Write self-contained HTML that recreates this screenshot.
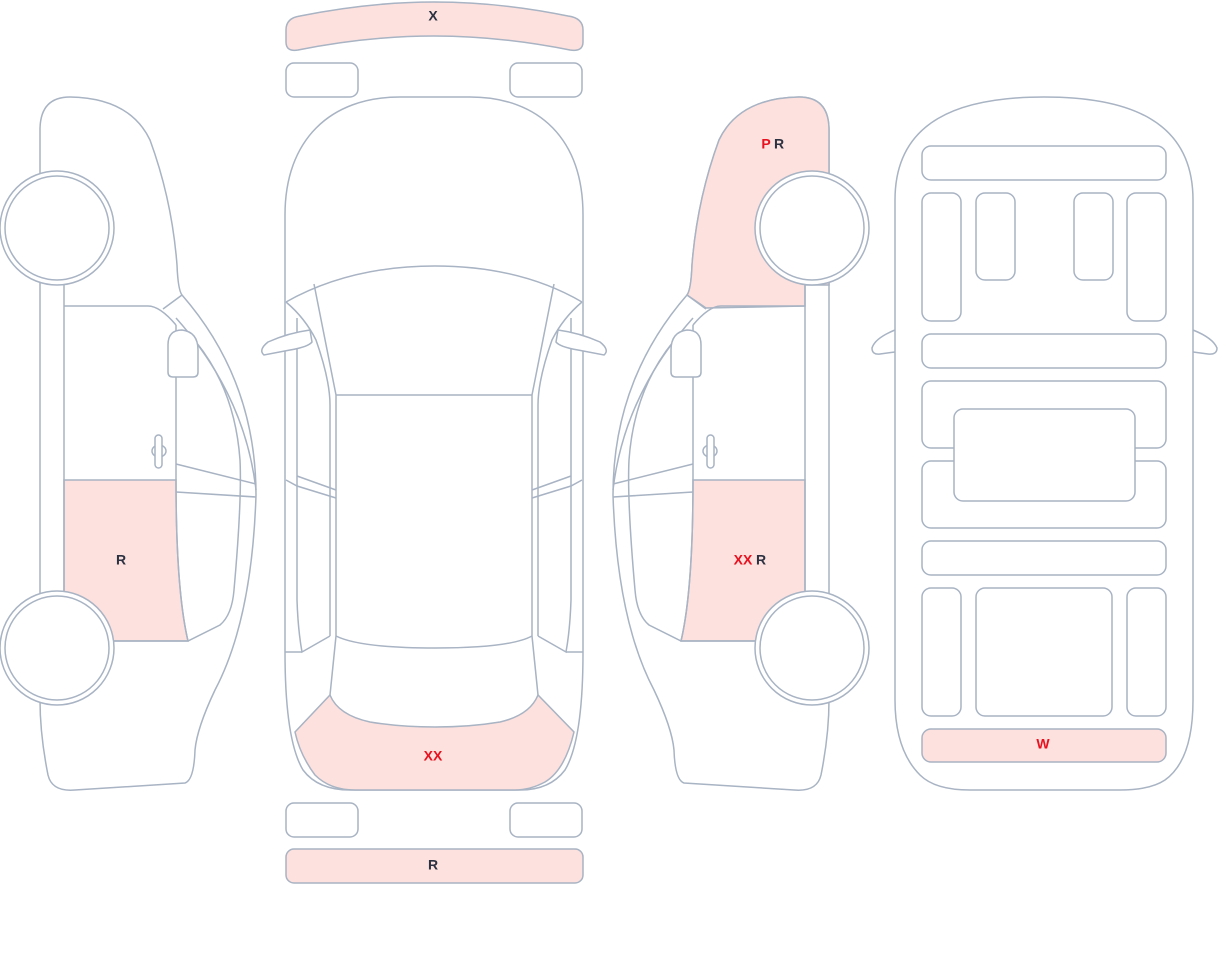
<!DOCTYPE html>
<html><head><meta charset="utf-8"><style>
html,body{margin:0;padding:0;background:#fff}
svg{display:block}
text{font-family:"Liberation Sans",sans-serif;font-size:14px;font-weight:bold;text-anchor:middle;dominant-baseline:middle}
.d{fill:#2b3140}.r{fill:#e8111f}
</style></head><body>
<svg width="1220" height="967" viewBox="0 0 1220 967" xmlns="http://www.w3.org/2000/svg">
<defs>
<g id="side" fill="none" stroke="#a8b3c3" stroke-width="1.5">
<path fill="#fff" d="M40,130 Q40,97 70,97 Q130,98 150,140 Q172,200 177,265 Q178,290 182,295 Q256,380 256,495 Q252,620 215,690 Q197,728 195,750 Q194,780 185,783 L75,790 Q52,792 48,775 Q40,735 40,700 Z"/>
</g>
<g id="sidelines" fill="none" stroke="#a8b3c3" stroke-width="1.5">
<path d="M64,285 L64,595"/>
<path d="M64,306 L148,306 Q160,306 176,325"/>
<path d="M182,295 L163,309"/>
<path d="M176,325 L176,480 Q176,590 188,641"/>
<path d="M110,641 L188,641 L220,625 Q232,615 234,590 Q242,500 240,460 Q235,390 196,342"/>
<path d="M176,318 Q245,395 256,490"/>
<path d="M176,464 L256,484 M176,492 L256,497"/>
<path fill="#fff" d="M168,345 Q168,330 182,330 Q198,332 198,350 L198,372 Q198,377 193,377 L173,377 Q168,377 168,372 Z"/>
<ellipse cx="159" cy="451" rx="7" ry="6"/>
<rect x="155" y="435" width="7" height="33" rx="3.5" fill="#fff"/>
<circle cx="57" cy="228" r="57" fill="#fff"/><circle cx="57" cy="228" r="52"/>
<circle cx="57" cy="648" r="57" fill="#fff"/><circle cx="57" cy="648" r="52"/>
</g>
</defs>

<use href="#side"/>
<path fill="#fde1de" stroke="#a8b3c3" stroke-width="1.5" d="M64,480 L176,480 Q176,590 188,641 L110,641 Q95,600 64,592 Z"/>
<use href="#sidelines"/>

<g transform="matrix(-1,0,0,1,869,0)">
<use href="#side"/>
<path fill="#fde1de" stroke="#a8b3c3" stroke-width="1.5" d="M40,130 Q40,97 70,97 Q130,98 150,140 Q172,200 177,265 Q178,290 182,295 L163,308 L64,306 L64,285 L40,285 Z"/>
<path fill="#fde1de" stroke="#a8b3c3" stroke-width="1.5" d="M64,480 L176,480 Q176,590 188,641 L110,641 Q95,600 64,592 Z"/>
<use href="#sidelines"/>
</g>

<g fill="none" stroke="#a8b3c3" stroke-width="1.5">
<path fill="#fde1de" d="M286,30 Q286,18 300,16 Q370,2 434,2 Q500,2 568,16 Q583,18 583,30 L583,42 Q583,52 570,50 Q500,36 434,36 Q368,36 298,50 Q286,52 286,42 Z"/>
<rect x="286" y="63" width="72" height="34" rx="8"/>
<rect x="510" y="63" width="72" height="34" rx="8"/>
<rect x="286" y="803" width="72" height="34" rx="8"/>
<rect x="510" y="803" width="72" height="34" rx="8"/>
<rect x="286" y="849" width="297" height="34" rx="8" fill="#fde1de"/>
<path fill="#fff" d="M285,652 L285,215 C285,140 330,97 400,97 L470,97 C540,97 583,140 583,215 L583,652 Q583,740 565,770 Q550,790 520,790 L350,790 Q318,790 303,770 Q285,740 285,652 Z"/>
<path fill="#fde1de" d="M295,732 L330,695 Q338,715 370,722 Q400,727 435,727 Q470,727 500,722 Q530,715 538,695 L574,732 Q565,770 545,782 Q530,790 515,790 L355,790 Q330,790 315,775 Q300,755 295,732 Z"/>
<path d="M286,302 Q350,266 435,266 Q520,266 582,302"/>
<path d="M286,302 Q305,318 316,340 Q330,380 330,405 L330,636 M582,302 Q563,318 552,340 Q538,380 538,405 L538,636"/>
<path d="M314,284 L336,395 L336,636 M554,284 L532,395 L532,636 M336,395 L532,395"/>
<path d="M336,636 Q360,648 435,648 Q510,648 532,636"/>
<path d="M297,318 L297,600 Q298,630 302,652 L330,636 M571,318 L571,600 Q570,630 566,652 L538,636"/>
<path d="M285,652 L302,652 M566,652 L583,652"/>
<path d="M286,480 L297,486 L336,498 M297,476 L336,490 M582,480 L571,486 L532,498 M571,476 L532,490"/>
<path d="M336,636 L330,695 M532,636 L538,695"/>
<path fill="#fff" d="M310,330 Q288,333 268,342 Q258,350 264,355 L290,350 Q308,347 312,342 Z"/>
<path fill="#fff" d="M558,330 Q580,333 600,342 Q610,350 604,355 L578,350 Q560,347 556,342 Z"/>
</g>

<g fill="none" stroke="#a8b3c3" stroke-width="1.5">
<path d="M895,330 Q875,338 872,348 Q872,355 880,354 L895,352 M1193,330 Q1213,338 1217,348 Q1217,355 1208,354 L1193,352"/>
<path fill="#fff" d="M895,200 C895,120 960,97 1044,97 C1128,97 1193,120 1193,200 L1193,700 Q1193,760 1165,780 Q1150,790 1120,790 L970,790 Q935,790 920,775 Q895,750 895,700 Z"/>
<rect x="922" y="146" width="244" height="34" rx="9"/>
<rect x="922" y="193" width="39" height="128" rx="9"/>
<rect x="976" y="193" width="39" height="87" rx="9"/>
<rect x="1074" y="193" width="39" height="87" rx="9"/>
<rect x="1127" y="193" width="39" height="128" rx="9"/>
<rect x="922" y="334" width="244" height="34" rx="9"/>
<rect x="922" y="381" width="244" height="67" rx="9"/>
<rect x="922" y="461" width="244" height="67" rx="9"/>
<rect x="954" y="409" width="181" height="92" rx="9" fill="#fff"/>
<rect x="922" y="541" width="244" height="34" rx="9"/>
<rect x="922" y="588" width="39" height="128" rx="9"/>
<rect x="976" y="588" width="136" height="128" rx="9"/>
<rect x="1127" y="588" width="39" height="128" rx="9"/>
<rect x="922" y="729" width="244" height="33" rx="9" fill="#fde1de"/>
</g>

<text x="433" y="17" class="d">X</text>
<text x="121" y="561" class="d">R</text>
<text x="766" y="145" class="r">P</text><text x="779" y="145" class="d">R</text>
<text x="743" y="561" class="r">XX</text><text x="761" y="561" class="d">R</text>
<text x="433" y="757" class="r">XX</text>
<text x="433" y="866" class="d">R</text>
<text x="1043" y="745" class="r">W</text>
</svg>
</body></html>
